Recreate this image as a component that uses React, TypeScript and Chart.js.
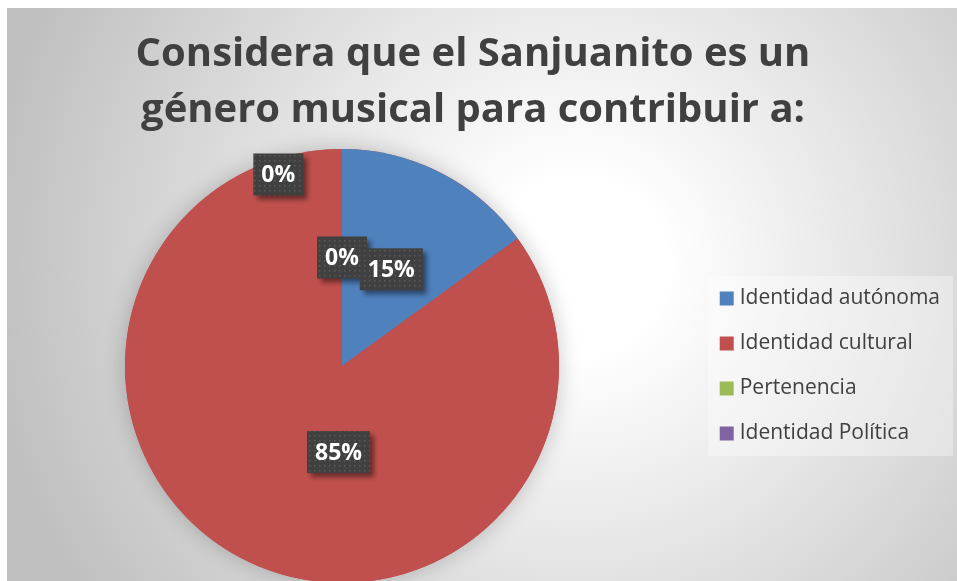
import React, { useEffect, useRef } from "react";
import { Chart, registerables } from "chart.js";

Chart.register(...registerables);

// ---- data ----
const categories = ["Identidad autónoma", "Identidad cultural", "Pertenencia", "Identidad Política"];
const percentages = [15, 85, 0, 0];
const titleLines = ["Considera que el Sanjuanito es un", "género musical para contribuir a:"];
const sliceColors = ["#4F81BD", "#C0504D", "#9BBB59", "#8064A2"];

// label placement (style): angle in degrees clockwise from 12 o'clock, radius as fraction of pie radius
const labelPlacement: Array<{ angle: number; r: number } | null> = [
  null,
  { angle: 182.3, r: 0.397 },
  null,
  { angle: -18.4, r: 0.93 },
];
const labelDrawOrder = [2, 0, 1, 3];
const FONT = "'Open Sans'";

function makePattern(ctx: CanvasRenderingContext2D) {
  const c = document.createElement("canvas");
  c.width = 5;
  c.height = 5;
  const p = c.getContext("2d")!;
  p.fillStyle = "#404040";
  p.fillRect(0, 0, 5, 5);
  p.fillStyle = "#5a5a5a";
  p.fillRect(2, 2, 1.5, 1.5);
  return ctx.createPattern(c, "repeat");
}

// place title / legend boxes after Chart.js layout
const arrangePlugin = {
  id: "arrange",
  afterLayout(chart: any) {
    const W = chart.width;
    const ca = chart.chartArea;
    const t = chart.titleBlock;
    if (t) {
      t.left = 0;
      t.right = W - 18;
      t.width = t.right - t.left;
    }
    const lg = chart.legend;
    if (lg) {
      const w = lg.width;
      lg.right = W - 7;
      lg.left = lg.right - w;
      lg.top = ca.top;
      lg.bottom = ca.bottom;
      lg.height = lg.bottom - lg.top;
    }
  },
};

const backgroundPlugin = {
  id: "bgPanel",
  beforeDraw(chart: any) {
    const { ctx, width, height } = chart;
    ctx.save();
    const cx = width * 0.6;
    const cy = height * 0.43;
    const g = ctx.createRadialGradient(cx, cy, 0, cx, cy, width * 0.62);
    g.addColorStop(0, "#ffffff");
    g.addColorStop(0.15, "#ffffff");
    g.addColorStop(1, "#c0c0c0");
    ctx.fillStyle = g;
    ctx.fillRect(0, 0, width, height);

    const lg = chart.legend;
    const hb = lg && lg.legendHitBoxes;
    if (hb && hb.length) {
      const first = hb[0];
      const last = hb[hb.length - 1];
      const left = first.left - 16;
      const top = first.top - 12;
      const right = lg.right + 3;
      const bottom = last.top + last.height + 12;
      ctx.fillStyle = "rgba(255,255,255,0.35)";
      ctx.fillRect(left, top, right - left, bottom - top);
    }
    ctx.restore();
  },
};

const pieShadowPlugin = {
  id: "pieShadow",
  beforeDatasetsDraw(chart: any) {
    const meta = chart.getDatasetMeta(0);
    const arc = meta.data[0];
    if (!arc) return;
    const { x, y, outerRadius } = arc.getProps(["x", "y", "outerRadius"], true);
    const ctx = chart.ctx;
    ctx.save();
    ctx.shadowColor = "rgba(0,0,0,0.22)";
    ctx.shadowBlur = 22;
    ctx.fillStyle = "#C0504D";
    ctx.beginPath();
    ctx.arc(x, y, outerRadius, 0, Math.PI * 2);
    ctx.fill();
    ctx.restore();
  },
};

const dataLabelPlugin = {
  id: "boxLabels",
  afterDatasetsDraw(chart: any) {
    const ctx: CanvasRenderingContext2D = chart.ctx;
    const meta = chart.getDatasetMeta(0);
    const values = chart.data.datasets[0].data as number[];
    const total = values.reduce((a, b) => a + b, 0);
    const pattern = makePattern(ctx);
    ctx.save();
    ctx.font = `bold 23px ${FONT}`;
    ctx.textAlign = "center";
    ctx.textBaseline = "middle";
    for (const i of labelDrawOrder) {
      const arc = meta.data[i];
      if (!arc) continue;
      const { x, y, startAngle, endAngle, outerRadius } = arc.getProps(
        ["x", "y", "startAngle", "endAngle", "outerRadius"],
        true
      );
      const pl = labelPlacement[i];
      let a = (startAngle + endAngle) / 2;
      let r = 0.5;
      if (pl) {
        a = ((pl.angle - 90) * Math.PI) / 180;
        r = pl.r;
      }
      const lx = x + Math.cos(a) * r * outerRadius;
      const ly = y + Math.sin(a) * r * outerRadius;
      const text = Math.round((values[i] / total) * 100) + "%";
      const tw = ctx.measureText(text).width;
      const w = tw + 16;
      const h = 42;
      ctx.save();
      ctx.shadowColor = "rgba(0,0,0,0.45)";
      ctx.shadowBlur = 5;
      ctx.shadowOffsetX = 4;
      ctx.shadowOffsetY = 4;
      ctx.fillStyle = pattern || "#404040";
      ctx.fillRect(lx - w / 2, ly - h / 2, w, h);
      ctx.restore();
      ctx.fillStyle = "#ffffff";
      ctx.fillText(text, lx, ly + 1);
    }
    ctx.restore();
  },
};

export default function App() {
  const ref = useRef<HTMLCanvasElement>(null);
  useEffect(() => {
    const canvas = ref.current;
    if (!canvas) return;
    const chart = new Chart(canvas, {
      type: "pie",
      data: {
        labels: categories,
        datasets: [
          {
            data: percentages,
            backgroundColor: sliceColors,
            borderWidth: 0,
          },
        ],
      },
      options: {
        responsive: false,
        animation: false,
        layout: { padding: { left: 0, right: 280, top: 0, bottom: 25 } },
        plugins: {
          title: {
            display: true,
            text: titleLines,
            color: "#404040",
            font: { family: FONT, size: 40, weight: "bold", lineHeight: 56 / 40 },
            padding: { top: 19, bottom: 10 },
          },
          legend: {
            position: "chartArea",
            align: "center",
            labels: {
              color: "#404040",
              font: { family: FONT, size: 21 },
              usePointStyle: true,
              pointStyle: "rect",
              boxWidth: 5,
              boxHeight: 14,
              padding: 24,
            },
          },
          tooltip: { enabled: false },
        },
      } as any,
      plugins: [arrangePlugin, backgroundPlugin, pieShadowPlugin, dataLabelPlugin],
    });
    return () => chart.destroy();
  }, []);
  return (
    <div
      style={{
        position: "fixed",
        left: 7,
        top: 8,
        width: 950,
        height: 573,
        overflow: "hidden",
      }}
    >
      <canvas ref={ref} width={950} height={600} style={{ display: "block" }} />
    </div>
  );
}
